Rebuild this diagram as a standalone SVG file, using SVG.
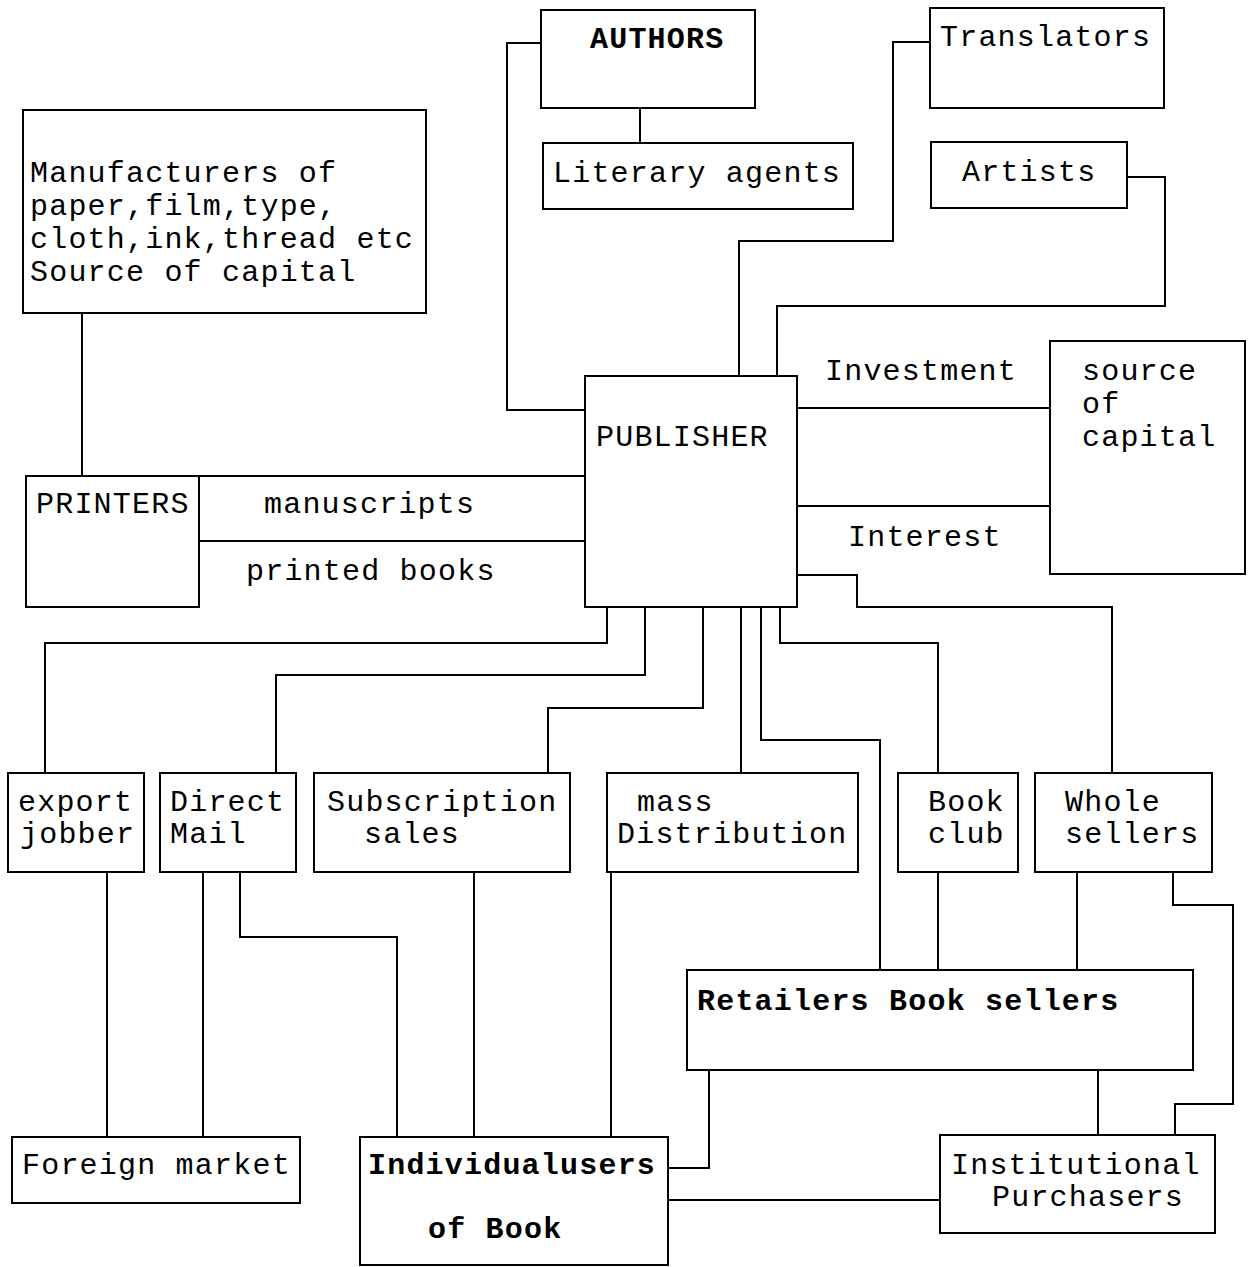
<svg xmlns="http://www.w3.org/2000/svg" width="1255" height="1267" viewBox="0 0 1255 1267">
<style>
.box{fill:#fff;stroke:#000;stroke-width:2}
.ln{fill:none;stroke:#000;stroke-width:2}
text{font-family:"Liberation Mono","Courier New",monospace;font-size:30px;letter-spacing:1.2px;fill:#000}
.b{font-weight:bold}
</style>
<rect width="1255" height="1267" fill="#fff"/>
<g id="connectors">
<path class="ln" d="M541,43 H507 V410 H585"/>
<path class="ln" d="M640,108 V143"/>
<path class="ln" d="M930,42 H893 V241 H739 V376"/>
<path class="ln" d="M1127,177 H1165 V306 H777 V376"/>
<path class="ln" d="M797,408 H1050"/>
<path class="ln" d="M797,506 H1050"/>
<path class="ln" d="M82,313 V476"/>
<path class="ln" d="M199,476 H585"/>
<path class="ln" d="M199,541 H585"/>
<path class="ln" d="M797,575 H857 V607 H1112 V773"/>
<path class="ln" d="M607,607 V643 H45 V773"/>
<path class="ln" d="M645,607 V675 H276 V773"/>
<path class="ln" d="M703,607 V708 H548 V773"/>
<path class="ln" d="M741,607 V773"/>
<path class="ln" d="M761,607 V740 H880 V970"/>
<path class="ln" d="M780,607 V643 H938 V773"/>
<path class="ln" d="M938,872 V970"/>
<path class="ln" d="M1077,872 V970"/>
<path class="ln" d="M1173,872 V905 H1233 V1104 H1175 V1135"/>
<path class="ln" d="M107,872 V1137"/>
<path class="ln" d="M203,872 V1137"/>
<path class="ln" d="M240,872 V937 H397 V1137"/>
<path class="ln" d="M474,872 V1137"/>
<path class="ln" d="M611,872 V1137"/>
<path class="ln" d="M709,1070 V1168 H668"/>
<path class="ln" d="M1098,1070 V1135"/>
<path class="ln" d="M668,1200 H940"/>
</g>
<g id="authors"><rect class="box" x="541" y="10" width="214" height="98"/><text class="b" x="590" y="48">AUTHORS</text></g>
<g id="literary-agents"><rect class="box" x="543" y="143" width="310" height="66"/><text x="553" y="182">Literary agents</text></g>
<g id="translators"><rect class="box" x="930" y="8" width="234" height="100"/><text x="940" y="46">Translators</text></g>
<g id="artists"><rect class="box" x="931" y="142" width="196" height="66"/><text x="962" y="181">Artists</text></g>
<g id="manufacturers"><rect class="box" x="23" y="110" width="403" height="203"/>
<text x="30" y="182">Manufacturers of</text>
<text x="30" y="215">paper,film,type,</text>
<text x="30" y="248">cloth,ink,thread etc</text>
<text x="30" y="281">Source of capital</text></g>
<g id="printers"><rect class="box" x="26" y="476" width="173" height="131"/><text x="36" y="513">PRINTERS</text></g>
<g id="publisher"><rect class="box" x="585" y="376" width="212" height="231"/><text x="596" y="446">PUBLISHER</text></g>
<g id="source-of-capital"><rect class="box" x="1050" y="341" width="195" height="233"/>
<text x="1082" y="380">source</text><text x="1082" y="413">of</text><text x="1082" y="446">capital</text></g>
<g id="labels">
<text x="264" y="513">manuscripts</text>
<text x="246" y="580">printed books</text>
<text x="825" y="380">Investment</text>
<text x="848" y="546">Interest</text>
</g>
<g id="export-jobber"><rect class="box" x="8" y="773" width="136" height="99"/><text x="18" y="811">export</text><text x="20" y="843">jobber</text></g>
<g id="direct-mail"><rect class="box" x="160" y="773" width="136" height="99"/><text x="170" y="811">Direct</text><text x="170" y="843">Mail</text></g>
<g id="subscription-sales"><rect class="box" x="314" y="773" width="256" height="99"/><text x="327" y="811">Subscription</text><text x="364" y="843">sales</text></g>
<g id="mass-distribution"><rect class="box" x="607" y="773" width="251" height="99"/><text x="637" y="811">mass</text><text x="617" y="843">Distribution</text></g>
<g id="book-club"><rect class="box" x="898" y="773" width="120" height="99"/><text x="928" y="811">Book</text><text x="928" y="843">club</text></g>
<g id="whole-sellers"><rect class="box" x="1035" y="773" width="177" height="99"/><text x="1065" y="811">Whole</text><text x="1065" y="843">sellers</text></g>
<g id="retailers"><rect class="box" x="687" y="970" width="506" height="100"/><text class="b" x="697" y="1010">Retailers Book sellers</text></g>
<g id="foreign-market"><rect class="box" x="12" y="1137" width="288" height="66"/><text x="22" y="1174">Foreign market</text></g>
<g id="individual-users"><rect class="box" x="360" y="1137" width="308" height="128"/><text class="b" x="368" y="1174">Individualusers</text><text class="b" x="428" y="1238">of Book</text></g>
<g id="institutional"><rect class="box" x="940" y="1135" width="275" height="98"/><text x="951" y="1174">Institutional</text><text x="992" y="1206">Purchasers</text></g>
</svg>
